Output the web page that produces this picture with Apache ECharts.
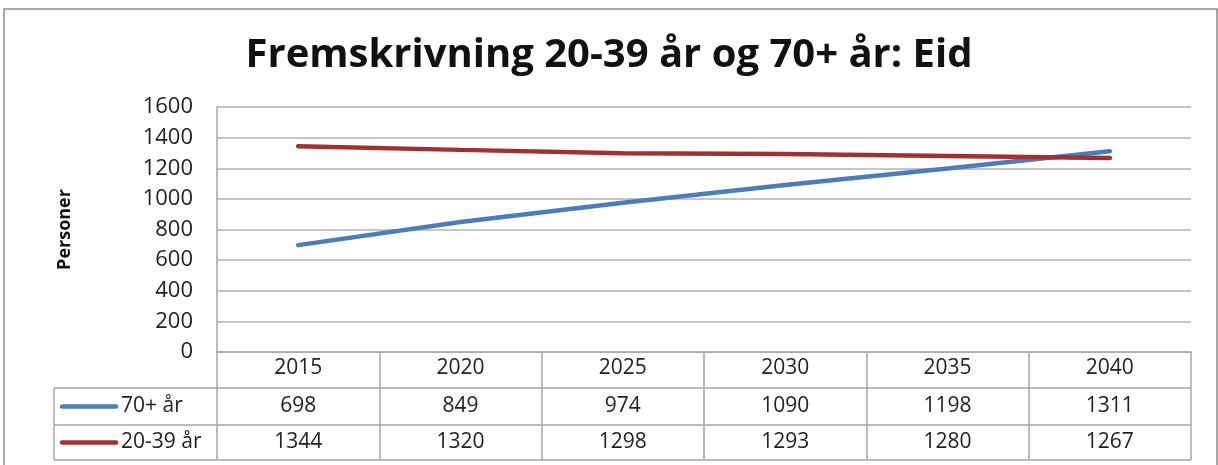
<!DOCTYPE html>
<html>
<head>
<meta charset="utf-8">
<script src="https://cdn.jsdelivr.net/npm/echarts@6/dist/echarts.min.js"></script>
<style>
html,body{margin:0;padding:0;background:#fff;}
#chart{width:1218px;height:465px;}
</style>
</head>
<body>
<div id="chart"></div>
<script>
var years = ['2015', '2020', '2025', '2030', '2035', '2040'];
var eldre = [698, 849, 974, 1090, 1198, 1311];      // 70+ år
var unge = [1344, 1320, 1298, 1293, 1280, 1267];    // 20-39 år
var seriesNames = ['70+ år', '20-39 år'];
var seriesColors = ['#4a7ebb', '#a3302e'];

var FONT = 'Open Sans';
var GRID_L = 217, GRID_R = 1191, GRID_T = 107, AXIS_Y = 352;
var ROW1 = 388, ROW2 = 425, ROW_END = 460, TABLE_L = 54;

var myChart = echarts.init(document.getElementById('chart'));

var option = {
	animation: false,
	title: {
		text: 'Fremskrivning 20-39 år og 70+ år: Eid',
		left: 'center',
		top: 31,
		textStyle: {fontFamily: FONT, fontSize: 40, fontWeight: 'bold', color: '#111'}
	},
	grid: {left: GRID_L, right: 1218 - GRID_R, top: GRID_T, bottom: 465 - AXIS_Y},
	xAxis: {
		type: 'category',
		data: years,
		boundaryGap: true,
		axisLine: {lineStyle: {color: '#a6a6a6', width: 1.5}},
		axisTick: {show: true, length: ROW_END - AXIS_Y, lineStyle: {color: '#a6a6a6', width: 1.5}},
		axisLabel: {margin: 6, fontFamily: FONT, fontSize: 21, color: '#222'}
	},
	yAxis: {
		type: 'value',
		min: 0,
		max: 1600,
		interval: 200,
		name: 'Personer',
		nameLocation: 'middle',
		nameGap: 143,
		nameRotate: 90,
		nameTextStyle: {fontFamily: FONT, fontSize: 18, fontWeight: 'bold', color: '#111'},
		axisLine: {show: true, lineStyle: {color: '#a6a6a6', width: 1.5}},
		axisTick: {show: false},
		axisLabel: {margin: 24, fontFamily: FONT, fontSize: 22, color: '#222',
			formatter: function(v){ return String(v); }},
		splitLine: {lineStyle: {color: '#b3b3b3', width: 1.5}}
	},
	series: [
		{name: seriesNames[0], type: 'line', data: eldre, symbol: 'none',
			lineStyle: {color: seriesColors[0], width: 4.5, cap: 'round'}},
		{name: seriesNames[1], type: 'line', data: unge, symbol: 'none',
			lineStyle: {color: seriesColors[1], width: 4.5, cap: 'round'}}
	]
};
myChart.setOption(option);

// datatabell under aksen
var rows = [eldre, unge];
var rowTops = [ROW1, ROW2];
var graphics = [];
var lineStyle = {stroke: '#a6a6a6', lineWidth: 1.5};

// ytre ramme
graphics.push({type: 'rect', shape: {x: 4, y: 9, width: 1213, height: 470},
	style: {fill: null, stroke: '#8c8c8c', lineWidth: 1.5}, silent: true});

[ROW1, ROW2, ROW_END].forEach(function(y){
	graphics.push({type: 'line', shape: {x1: TABLE_L, y1: y, x2: GRID_R, y2: y}, style: lineStyle});
});
graphics.push({type: 'line', shape: {x1: TABLE_L, y1: ROW1, x2: TABLE_L, y2: ROW_END}, style: lineStyle});

for (var r = 0; r < rows.length; r++) {
	var yMid = (rowTops[r] + (r === 0 ? ROW2 : ROW_END)) / 2;
	graphics.push({type: 'line', shape: {x1: 62, y1: yMid, x2: 116, y2: yMid},
		style: {stroke: seriesColors[r], lineWidth: 4.5, lineCap: 'round'}});
	graphics.push({type: 'text', x: 121, y: yMid,
		style: {text: seriesNames[r], font: '21px "' + FONT + '"', fill: '#222', textVerticalAlign: 'middle'}});
	for (var i = 0; i < years.length; i++) {
		var px = myChart.convertToPixel({xAxisIndex: 0}, years[i]);
		graphics.push({type: 'text', x: px, y: yMid,
			style: {text: String(rows[r][i]), font: '21px "' + FONT + '"', fill: '#222',
				textAlign: 'center', textVerticalAlign: 'middle'}});
	}
}
myChart.setOption({graphic: graphics});
</script>
</body>
</html>
